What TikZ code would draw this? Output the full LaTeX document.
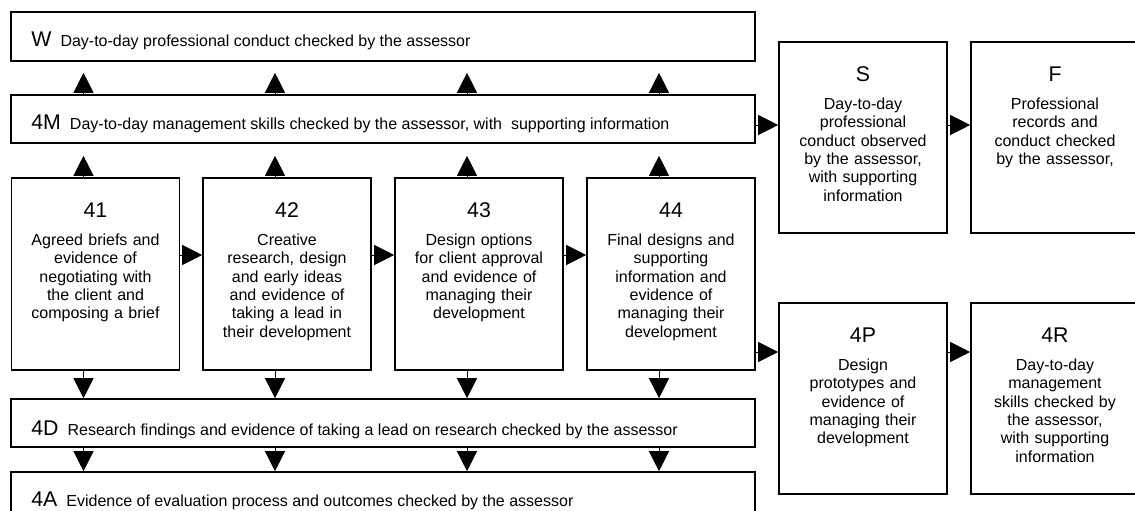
\documentclass[tikz,border=0pt]{standalone}
\usepackage{fontspec}
\setmainfont{Liberation Sans}
\usetikzlibrary{arrows.meta,positioning}

\newcommand{\bignum}[1]{{\fontsize{21.3}{24}\selectfont #1}}

\tikzset{
	bandbox/.style={draw, line width=1.6pt, minimum width=744pt, minimum height=48pt, inner sep=0pt},
	stagebox/.style={draw, line width=1.6pt, minimum width=168pt, minimum height=192pt, inner sep=0pt},
	numtext/.style={anchor=base, inner sep=0pt, font=\fontsize{21.3}{24}\selectfont},
	bodytext/.style={anchor=base, inner sep=0pt, text width=166pt, align=center, font=\fontsize{16}{18.4}\selectfont},
	bandtext/.style={anchor=base west, inner sep=0pt, font=\fontsize{16}{18.4}\selectfont},
	flow/.style={line width=1pt, -{Triangle[length=20pt,width=20pt]}},
}

\begin{document}
\begin{tikzpicture}[x=1pt,y=-1pt]
	\clip (0,0) rectangle (1135,511);

	% long bands
	\node[bandbox, minimum height=49pt] (W) at (383,36.5) {};
	\node[bandbox] (M) at (383,119) {};
	\node[bandbox] (D) at (383,423) {};
	\node[bandbox, minimum height=60pt] (A) at (383,502) {};

	\node[bandtext] (Wt) at ([xshift=21pt,yshift=-35pt]W.north west) {\bignum{W}\hspace{9pt}Day-to-day professional conduct checked by the assessor};
	\node[bandtext] (Mt) at ([xshift=21pt,yshift=-35pt]M.north west) {\bignum{4M}\hspace{9pt}Day-to-day management skills checked by the assessor, with\ \ supporting information};
	\node[bandtext] (Dt) at ([xshift=21pt,yshift=-37pt]D.north west) {\bignum{4D}\hspace{9pt}Research findings and evidence of taking a lead on research checked by the assessor};
	\node[bandtext] (At) at ([xshift=21pt,yshift=-35pt]A.north west) {\bignum{4A}\hspace{9pt}Evidence of evaluation process and outcomes checked by the assessor};

	% four stages
	\node[stagebox] (b41) at (95.5,274) {};
	\node[stagebox] (b42) at (287,274) {};
	\node[stagebox] (b43) at (479,274) {};
	\node[stagebox] (b44) at (671,274) {};

	\node[numtext] (b41n) at ([yshift=-40pt]b41.north) {41};
	\node[bodytext] (b41t) at ([yshift=-68pt]b41.north) {Agreed briefs and\\evidence of\\negotiating with\\the client and\\composing a brief};
	\node[numtext] (b42n) at ([yshift=-40pt]b42.north) {42};
	\node[bodytext] (b42t) at ([yshift=-68pt]b42.north) {Creative\\research, design\\and early ideas\\and evidence of\\taking a lead in\\their development};
	\node[numtext] (b43n) at ([yshift=-40pt]b43.north) {43};
	\node[bodytext] (b43t) at ([yshift=-68pt]b43.north) {Design options\\for client approval\\and evidence of\\managing their\\development};
	\node[numtext] (b44n) at ([yshift=-40pt]b44.north) {44};
	\node[bodytext] (b44t) at ([yshift=-68pt]b44.north) {Final designs and\\supporting\\information and\\evidence of\\managing their\\development};

	% boxes on the right
	\node[stagebox, minimum height=191pt] (S) at (863,137.5) {};
	\node[stagebox, minimum height=191pt] (F) at (1055,137.5) {};
	\node[stagebox, minimum height=191pt] (P) at (863,398.5) {};
	\node[stagebox, minimum height=191pt] (R) at (1055,398.5) {};

	\node[numtext] (Sn) at ([yshift=-40pt]S.north) {S};
	\node[bodytext] (St) at ([yshift=-68pt]S.north) {Day-to-day\\professional\\conduct observed\\by the assessor,\\with supporting\\information};
	\node[numtext] (Fn) at ([yshift=-40pt]F.north) {F};
	\node[bodytext] (Ft) at ([yshift=-68pt]F.north) {Professional\\records and\\conduct checked\\by the assessor,};
	\node[numtext] (Pn) at ([yshift=-40pt]P.north) {4P};
	\node[bodytext] (Pt) at ([yshift=-68pt]P.north) {Design\\prototypes and\\evidence of\\managing their\\development};
	\node[numtext] (Rn) at ([yshift=-40pt]R.north) {4R};
	\node[bodytext] (Rt) at ([yshift=-68pt]R.north) {Day-to-day\\management\\skills checked by\\the assessor,\\with supporting\\information};

	% arrows
	\coordinate (rowA) at (0,255);
	\coordinate (rowS) at (0,125);
	\coordinate (rowP) at (0,352);

	\foreach \c in {41,42,43,44}{
		\draw[flow, shorten >=12pt] ([xshift=-12pt]b\c.north) -- ([xshift=-12pt]b\c.north |- M.south);
		\draw[flow, shorten >=11pt] ([xshift=-12pt]b\c.north |- M.north) -- ([xshift=-12pt]b\c.north |- W.south);
		\draw[flow] ([xshift=-12pt]b\c.south) -- ([xshift=-12pt]b\c.south |- D.north);
		\draw[flow] ([xshift=-12pt]b\c.south |- D.south) -- ([xshift=-12pt]b\c.south |- A.north);
	}

	\draw[flow] (b41.east |- rowA) -- (b42.west |- rowA);
	\draw[flow] (b42.east |- rowA) -- (b43.west |- rowA);
	\draw[flow] (b43.east |- rowA) -- (b44.west |- rowA);

	\draw[flow] (M.east |- rowS) -- (S.west |- rowS);
	\draw[flow] (S.east |- rowS) -- (F.west |- rowS);
	\draw[flow] (b44.east |- rowP) -- (P.west |- rowP);
	\draw[flow] (P.east |- rowP) -- (R.west |- rowP);
\end{tikzpicture}
\end{document}
